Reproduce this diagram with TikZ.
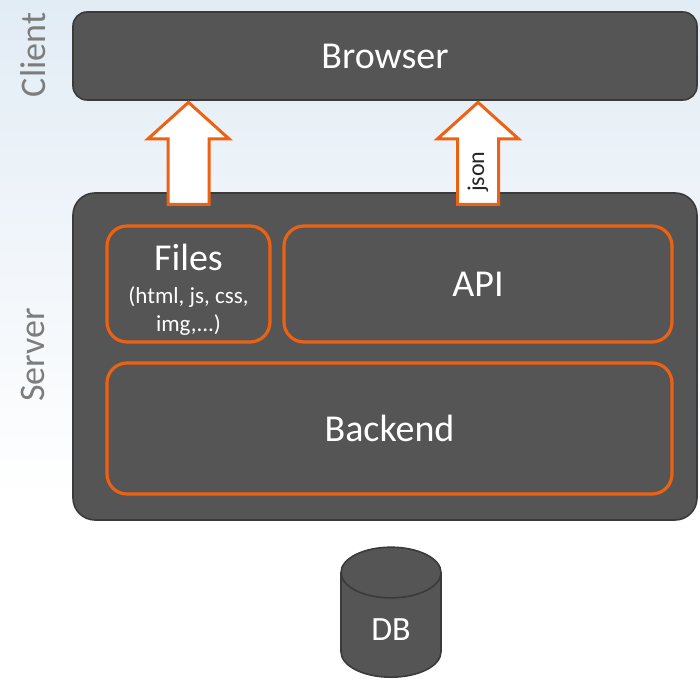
\documentclass[tikz,border=0pt]{standalone}
\usepackage{fontspec}
\setmainfont{Carlito}
\usetikzlibrary{positioning, shapes.geometric, shapes.arrows, calc}
\definecolor{boxgray}{RGB}{85,85,85}
\definecolor{edgegray}{RGB}{58,58,58}
\definecolor{weborange}{RGB}{236,98,18}
\definecolor{labelgray}{RGB}{125,125,125}
\definecolor{skyback}{RGB}{226,236,245}
\newcommand{\smalltype}{\fontsize{23}{28}\selectfont}

\begin{document}
\begin{tikzpicture}[x=1pt, y=1pt,
  darkbox/.style={draw=edgegray, line width=1.6pt, fill=boxgray, text=white,
                  font=\fontsize{38}{40}\selectfont},
  partbox/.style={draw=weborange, line width=3.2pt, rounded corners=20pt, text=white,
                  font=\fontsize{38}{40}\selectfont, align=center},
  uparrow/.style={single arrow, draw=weborange, line width=3pt, fill=white, rotate=90,
                  minimum height=102pt, minimum width=80pt, inner xsep=0pt, inner ysep=19pt,
                  single arrow head extend=20pt, single arrow head indent=0pt,
                  single arrow tip angle=96},
  sidelabel/.style={rotate=90, text=labelgray, font=\fontsize{36}{40}\selectfont}]
  \fill[top color=skyback, bottom color=white] (0,182) rectangle (700,682);
  \useasboundingbox (0,0) rectangle (700,682);

  \node[sidelabel] (client) at (33,627) {Client};
  \node[sidelabel] (serverlabel) at (33,327) {Server};

  \node[darkbox, rounded corners=14pt, minimum width=624pt, minimum height=88pt] (browser) at (385,626) {Browser};
  \node[darkbox, rounded corners=22pt, minimum width=624pt, minimum height=327pt] (server) at (385,325.5) {};

  \node[partbox, minimum width=163pt, minimum height=116pt] (files) at (188.5,398)
    {\rule{0pt}{37pt}Files\\[-7pt]\smalltype (html, js, css,\\[-12pt]\smalltype img,...)};
  \node[partbox, minimum width=388pt, minimum height=116pt] (api) at (478,398) {API};
  \node[partbox, minimum width=565pt, minimum height=131pt] (backend) at (389.5,253.5) {Backend};

  \node[uparrow] (filesup) at ($(files.north)!.5!(files.north |- browser.south)$) {};
  \node[uparrow] (apiup) at ($(api.north)!.5!(api.north |- browser.south)$) {};
  \node[rotate=90, text=black!85, font=\fontsize{24}{26}\selectfont] (json) at ([yshift=-9pt]apiup.center) {json};

  \node[cylinder, shape border rotate=90, draw=edgegray, line width=1.6pt, fill=boxgray,
        minimum width=100pt, minimum height=130pt, aspect=1.1, text=white, anchor=bottom,
        font=\fontsize{34}{36}\selectfont] (db) at (391,4) {DB};
\end{tikzpicture}
\end{document}
